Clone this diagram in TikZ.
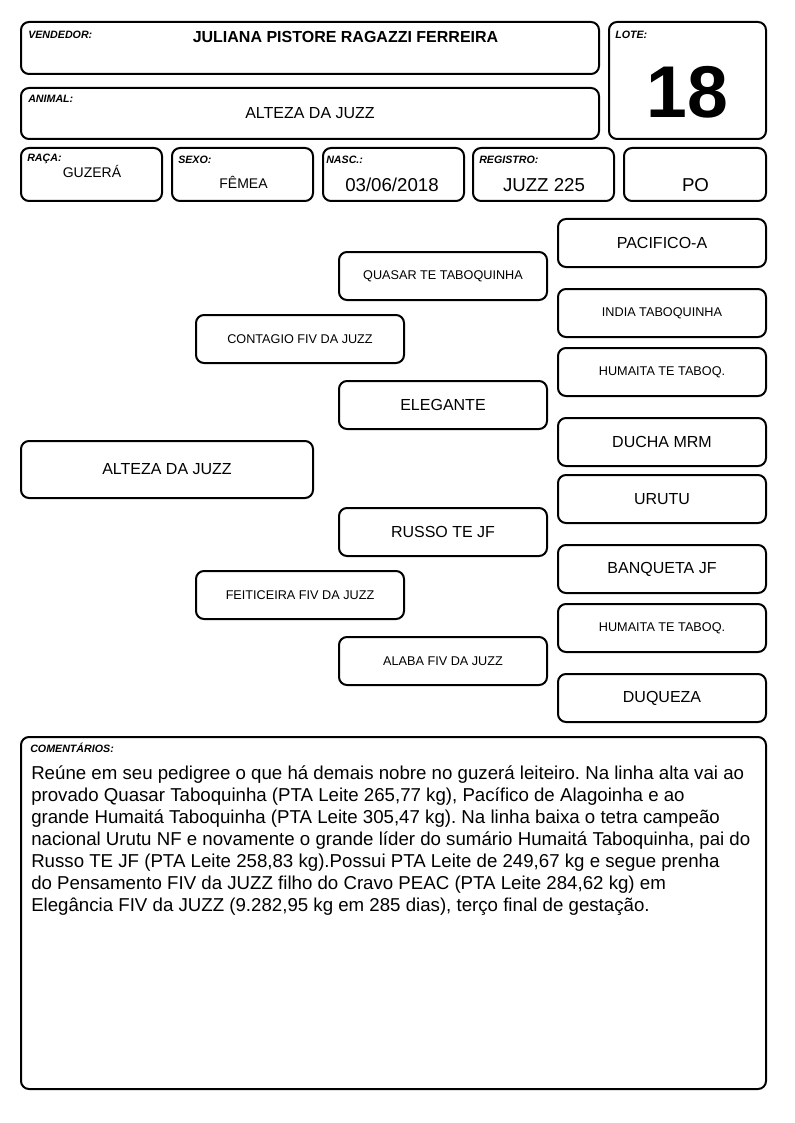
\documentclass[tikz,border=0pt]{standalone}
\usepackage{fontspec}
\setmainfont{Liberation Sans}
\usetikzlibrary{positioning}
\frenchspacing

\tikzset{
  frame/.style={draw, line width=1.5pt, rounded corners=6pt, inner sep=0pt},
  pbox/.style={frame, minimum width=156pt, minimum height=36pt},
  tag/.style={font=\fontsize{8}{9}\selectfont\bfseries\itshape, anchor=base west, inner sep=0pt},
  val/.style={anchor=base, inner sep=0pt},
  big/.style={font=\fontsize{12}{14}\selectfont},
  small/.style={font=\fontsize{9.5}{11}\selectfont},
}

\begin{document}
\begin{tikzpicture}[x=0.75pt,y=-0.75pt]
  \useasboundingbox (0,0) rectangle (794,1123);

  % header boxes
  \node[frame, minimum width=433.5pt, minimum height=39pt] (vendedor) at (310,48) {};
  \node[frame, minimum width=117.75pt, minimum height=87.75pt] (lote) at (687.5,80.5) {};
  \node[frame, minimum width=433.5pt, minimum height=38.25pt] (animal) at (310,113.5) {};
  \node[frame, minimum width=105.75pt, minimum height=39.75pt] (raca) at (91.5,174.5) {};
  \node[frame, minimum width=105.75pt, minimum height=39.75pt] (sexo) at (242.5,174.5) {};
  \node[frame, minimum width=105.75pt, minimum height=39.75pt] (nasc) at (393.5,174.5) {};
  \node[frame, minimum width=105.75pt, minimum height=39.75pt] (registro) at (543.5,174.5) {};
  \node[frame, minimum width=106.5pt, minimum height=39.75pt] (po) at (695,174.5) {};

  \node[tag] (vendedortag) at (28,39) {VENDEDOR:};
  \node[tag] (lotetag) at (615,39) {LOTE:};
  \node[tag] (animaltag) at (28,103) {ANIMAL:};
  \node[tag] (racatag) at (27,162) {RAÇA:};
  \node[tag] (sexotag) at (178,164) {SEXO:};
  \node[tag] (nasctag) at (326,164) {NASC.:};
  \node[tag] (registrotag) at (479,164) {REGISTRO:};

  \node[val, font=\fontsize{12}{14}\selectfont\bfseries] (vendedorname) at (345.5,43) {JULIANA PISTORE RAGAZZI FERREIRA};
  \node[val, font=\fontsize{55}{58}\selectfont\bfseries] (lotenum) at (687.5,118) {18};
  \node[val, font=\fontsize{12}{14}\selectfont] (animalname) at (310,119) {ALTEZA DA JUZZ};
  \node[val, font=\fontsize{10.5}{12}\selectfont] (racaval) at (92,178) {GUZERÁ};
  \node[val, font=\fontsize{10.5}{12}\selectfont] (sexoval) at (243.5,189) {FÊMEA};
  \node[val, font=\fontsize{14}{16}\selectfont] (nascval) at (392,192) {03/06/2018};
  \node[val, font=\fontsize{14}{16}\selectfont] (registroval) at (544,192) {JUZZ 225};
  \node[val, font=\fontsize{14}{16}\selectfont] (poval) at (695.5,192) {PO};

  % pedigree
  \node[frame, big, minimum width=219pt, minimum height=42.75pt] (alteza) at (167,469.5) {ALTEZA DA JUZZ};

  \node[pbox, small] (contagio) at (300,339) {CONTAGIO FIV DA JUZZ};
  \node[pbox, small] (feiticeira) at (300,595) {FEITICEIRA FIV DA JUZZ};

  \node[pbox, small] (quasar) at (443,276) {QUASAR TE TABOQUINHA};
  \node[pbox, big] (elegante) at (443,405) {ELEGANTE};
  \node[pbox, big] (russo) at (443,532) {RUSSO TE JF};
  \node[pbox, small] (alaba) at (443,661) {ALABA FIV DA JUZZ};

  \node[pbox, big] (pacifico) at (662,243) {PACIFICO-A};
  \node[pbox, small] (india) at (662,313) {INDIA TABOQUINHA};
  \node[pbox, small] (humaitaA) at (662,372) {HUMAITA TE TABOQ.};
  \node[pbox, big] (ducha) at (662,442) {DUCHA MRM};
  \node[pbox, big] (urutu) at (662,499) {URUTU};
  \node[pbox, big] (banqueta) at (662,569) {BANQUETA JF};
  \node[pbox, small] (humaitaB) at (662,628) {HUMAITA TE TABOQ.};
  \node[pbox, big] (duqueza) at (662,698) {DUQUEZA};

  % comments
  \node[frame, minimum width=558.75pt, minimum height=264pt] (comentarios) at (393.5,913) {};
  \node[tag] (comentariostag) at (30,752) {COMENTÁRIOS:};
  \node[anchor=north west, inner sep=0pt, align=left,
        font=\fontsize{14}{16.6}\selectfont] (comentariostext) at (31,765)
    {Reúne em seu pedigree o que há demais nobre no guzerá leiteiro. Na linha alta vai ao\\
     provado Quasar Taboquinha (PTA Leite 265,77 kg), Pacífico de Alagoinha e ao\\
     grande Humaitá Taboquinha (PTA Leite 305,47 kg). Na linha baixa o tetra campeão\\
     nacional Urutu NF e novamente o grande líder do sumário Humaitá Taboquinha, pai do\\
     Russo TE JF (PTA Leite 258,83 kg).Possui PTA Leite de 249,67 kg e segue prenha\\
     do Pensamento FIV da JUZZ filho do Cravo PEAC (PTA Leite 284,62 kg) em\\
     Elegância FIV da JUZZ (9.282,95 kg em 285 dias), terço final de gestação.};
\end{tikzpicture}
\end{document}
